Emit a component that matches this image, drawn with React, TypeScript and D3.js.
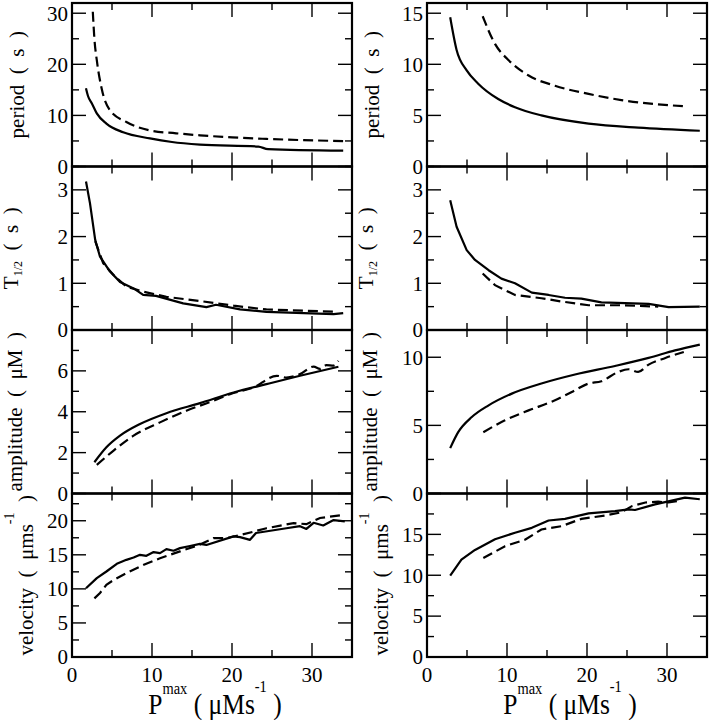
import * as d3 from "d3";

type Pt = [number, number];

// x axis (shared)
const X_DOMAIN: [number, number] = [0, 35];
const X_MAJOR = [0, 10, 20, 30];
const X_MINOR_STEP = 5;

// period (s)
const periodLeftSolid: Pt[] = [[1.75, 15.3], [2.0, 13.8], [2.5, 12.3], [3.1, 10.4], [4.3, 8.4], [6.4, 6.7], [9.75, 5.5], [12.5, 4.8], [16, 4.3], [23.3, 3.9], [24.5, 3.4], [33.9, 3.1]];
const periodLeftDash: Pt[] = [[2.6, 30.3], [2.8, 25], [3.1, 20.8], [3.7, 15.3], [4.75, 11], [6.8, 8.7], [9.75, 7.06], [13, 6.5], [16, 6.1], [20, 5.7], [24.3, 5.4], [34.3, 4.96]];
const periodRightSolid: Pt[] = [[2.9, 14.6], [3.7, 11.4], [4.96, 9.4], [6.4, 8.1], [8.9, 6.6], [11, 5.8], [14.3, 5.0], [20.2, 4.2], [26.4, 3.8], [34.1, 3.5]];
const periodRightDash: Pt[] = [[6.96, 14.7], [8.5, 12.0], [10.2, 10.4], [12.7, 8.9], [16, 7.9], [20.2, 7.1], [24.3, 6.5], [32, 5.9]];

// T1/2 (s)
const halfLeftSolid: Pt[] = [[1.75, 3.18], [2.25, 2.71], [2.9, 1.93], [3.5, 1.57], [4.75, 1.25], [6, 1.03], [7.7, 0.89], [8.9, 0.75], [10.5, 0.73], [13.9, 0.57], [16.8, 0.49], [18, 0.54], [21, 0.44], [24.3, 0.39], [32.7, 0.34], [33.9, 0.36]];
const halfLeftDash: Pt[] = [[2.9, 1.9], [3.9, 1.43], [5.4, 1.14], [6.8, 0.93], [8.9, 0.82], [11.8, 0.71], [16.4, 0.61], [20.2, 0.52], [24.3, 0.44], [33, 0.39]];
const halfRightSolid: Pt[] = [[2.9, 2.78], [3.7, 2.21], [4.96, 1.71], [6, 1.5], [7.7, 1.28], [9.3, 1.1], [11, 1.0], [13.1, 0.8], [15.2, 0.75], [17.25, 0.69], [19.3, 0.67], [21.8, 0.59], [27.7, 0.56], [30.2, 0.49], [34.1, 0.5]];
const halfRightDash: Pt[] = [[6.96, 1.21], [8.5, 0.96], [11, 0.75], [14.3, 0.68], [16.8, 0.61], [20.2, 0.53], [24.3, 0.53], [28.9, 0.5]];

// amplitude (uM)
const ampLeftSolid: Pt[] = [[2.8, 1.53], [4.3, 2.26], [6, 2.83], [8.5, 3.4], [11.8, 3.93], [16, 4.42], [20.2, 4.94], [24.3, 5.35], [28.5, 5.76], [33.3, 6.2]];
const ampLeftDash: Pt[] = [[3.1, 1.4], [5.2, 2.1], [7.7, 2.83], [11, 3.48], [14.3, 4.05], [17.7, 4.54], [19.75, 4.86], [22.7, 5.19], [25.6, 5.76], [26.8, 5.67], [28.5, 5.84], [30.2, 6.21], [31, 6.1], [31.8, 6.28], [32.7, 6.26], [33.3, 6.49]];
const ampRightSolid: Pt[] = [[2.9, 3.33], [3.9, 4.5], [5.6, 5.61], [7.7, 6.47], [10.6, 7.33], [14.3, 8.07], [18.5, 8.73], [23.5, 9.36], [27.7, 9.95], [31, 10.5], [34.1, 10.93]];
const ampRightDash: Pt[] = [[7.04, 4.5], [9.75, 5.37], [12.7, 6.1], [16, 6.84], [18.1, 7.45], [20.2, 8.07], [21.8, 8.24], [23.9, 8.92], [25.2, 9.12], [26.4, 8.92], [27.7, 9.46], [29.8, 9.95], [32.1, 10.39]];

// velocity (um/s)
const velLeftSolid: Pt[] = [[1.75, 10.1], [3.1, 11.57], [4.3, 12.55], [5.6, 13.68], [6.8, 14.26], [7.7, 14.6], [8.5, 15], [9.3, 14.85], [10.2, 15.4], [11, 15.25], [11.8, 15.83], [12.7, 15.6], [13.5, 15.98], [14.75, 16.3], [16, 16.6], [16.8, 16.45], [20.2, 17.7], [21, 17.6], [22.25, 17.2], [23, 18.2], [26.8, 18.9], [28.5, 19.2], [29.3, 18.8], [30.2, 19.7], [31.4, 19.3], [32.7, 20.1], [34.1, 19.9]];
const velLeftDash: Pt[] = [[2.8, 8.6], [3.5, 9.4], [4.3, 10.6], [5.2, 11.3], [6.8, 12.3], [8.9, 13.5], [11, 14.5], [13.5, 15.5], [16, 16.5], [17.7, 17.45], [19.3, 17.45], [21, 17.9], [22.7, 18.4], [24.3, 18.9], [27.7, 19.65], [29.3, 19.5], [31, 20.4], [34.1, 20.9]];
const velRightSolid: Pt[] = [[2.9, 9.95], [4.3, 11.9], [6, 13.1], [8.5, 14.4], [11, 15.2], [13.1, 15.8], [15.2, 16.7], [17.25, 16.9], [20.2, 17.57], [23.5, 17.85], [25.2, 18.06], [26, 17.98], [28.5, 18.67], [32.25, 19.5], [34.1, 19.3]];
const velRightDash: Pt[] = [[7.04, 12.1], [9.75, 13.55], [12.3, 14.37], [14.3, 15.6], [16.8, 16.0], [19.3, 16.9], [22.25, 17.3], [24.3, 17.7], [25.6, 18.45], [27.3, 18.9], [28.9, 19.0], [30.2, 18.9], [31.6, 19.1]];

type Kind = "period" | "half" | "amp" | "vel";

type Panel = {
  kind: Kind;
  yMax: number;
  major: number;
  minor: number;
  solid: Pt[];
  dash: Pt[];
};

const leftPanels: Panel[] = [
  { kind: "period", yMax: 32, major: 10, minor: 5, solid: periodLeftSolid, dash: periodLeftDash },
  { kind: "half", yMax: 3.5, major: 1, minor: 0.5, solid: halfLeftSolid, dash: halfLeftDash },
  { kind: "amp", yMax: 8, major: 2, minor: 1, solid: ampLeftSolid, dash: ampLeftDash },
  { kind: "vel", yMax: 24, major: 5, minor: 2.5, solid: velLeftSolid, dash: velLeftDash },
];

const rightPanels: Panel[] = [
  { kind: "period", yMax: 16, major: 5, minor: 2.5, solid: periodRightSolid, dash: periodRightDash },
  { kind: "half", yMax: 3.5, major: 1, minor: 0.5, solid: halfRightSolid, dash: halfRightDash },
  { kind: "amp", yMax: 12, major: 5, minor: 2.5, solid: ampRightSolid, dash: ampRightDash },
  { kind: "vel", yMax: 20, major: 5, minor: 2.5, solid: velRightSolid, dash: velRightDash },
];

const FONT = "'Liberation Serif', 'Times New Roman', serif";
const TOP = 3;
const BOTTOM = 657;
const PANEL_H = (BOTTOM - TOP) / 4;
const TICK_MAJOR = 14;
const TICK_MINOR = 7;
const GAP = "\u00A0\u00A0";

const YLabel = ({ kind, x, y }: { kind: Kind; x: number; y: number }) => {
  const common = {
    transform: `translate(${x},${y}) rotate(-90)`,
    textAnchor: "middle" as const,
    fontFamily: FONT,
    fontSize: 21,
  };
  if (kind === "period") return <text {...common}>{`period${GAP}(${GAP}s${GAP})`}</text>;
  if (kind === "amp") return <text {...common}>{`amplitude${GAP}(${GAP}μM${GAP})`}</text>;
  if (kind === "half")
    return (
      <text {...common}>
        T<tspan fontSize={12} dy={4}>1/2</tspan>
        <tspan dy={-4}>{`${GAP}(${GAP}s${GAP})`}</tspan>
      </text>
    );
  return (
    <text {...common}>
      {`velocity${GAP}(${GAP}μms`}
      <tspan fontSize={14} dy={-19}>-1</tspan>
      <tspan dy={19}>{`${GAP})`}</tspan>
    </text>
  );
};

const labelOffset: Record<Kind, number> = { period: 24, half: 18, amp: 22, vel: 33 };
const smoothKinds: Kind[] = ["period", "amp"];

const Column = ({ panels, x0, x1, dx }: { panels: Panel[]; x0: number; x1: number; dx: number }) => {
  const xScale = d3.scaleLinear().domain(X_DOMAIN).range([x0, x1]);
  const xMinor = d3.range(X_DOMAIN[0], X_DOMAIN[1] + 0.001, X_MINOR_STEP).filter((v) => v % 10 !== 0);

  return (
    <g>
      {panels.map((p, i) => {
        const top = TOP + i * PANEL_H;
        const bottom = top + PANEL_H;
        const yScale = d3.scaleLinear().domain([0, p.yMax]).range([bottom, top]);
        const line = d3
          .line<Pt>()
          .x((d) => xScale(d[0]))
          .y((d) => yScale(d[1]))
          .curve(smoothKinds.includes(p.kind) ? d3.curveMonotoneX : d3.curveLinear);
        const yMajor = d3.range(0, p.yMax + 1e-6, p.major);
        const yMinor = d3
          .range(0, p.yMax + 1e-6, p.minor)
          .filter((v) => Math.abs(v / p.major - Math.round(v / p.major)) > 1e-6);
        return (
          <g key={i}>
            <path d={line(p.solid) ?? ""} fill="none" stroke="#000" strokeWidth={2.2} strokeLinejoin="round" />
            <path d={line(p.dash) ?? ""} fill="none" stroke="#000" strokeWidth={2.2} strokeDasharray="10,5" />
            {yMajor.map((v) => (
              <g key={"ym" + v}>
                <line x1={x0} x2={x0 + TICK_MAJOR} y1={yScale(v)} y2={yScale(v)} stroke="#000" strokeWidth={1.4} />
                <line x1={x1} x2={x1 - TICK_MAJOR} y1={yScale(v)} y2={yScale(v)} stroke="#000" strokeWidth={1.4} />
                {v < p.yMax - 1e-6 && (
                  <text x={x0 - 4} y={yScale(v)} dy="0.35em" textAnchor="end" fontFamily={FONT} fontSize={21}>
                    {v}
                  </text>
                )}
              </g>
            ))}
            {yMinor.map((v) => (
              <g key={"yn" + v}>
                <line x1={x0} x2={x0 + TICK_MINOR} y1={yScale(v)} y2={yScale(v)} stroke="#000" strokeWidth={1.4} />
                <line x1={x1} x2={x1 - TICK_MINOR} y1={yScale(v)} y2={yScale(v)} stroke="#000" strokeWidth={1.4} />
              </g>
            ))}
            {X_MAJOR.concat(xMinor).map((v) => {
              const len = X_MAJOR.includes(v) ? TICK_MAJOR : TICK_MINOR;
              return (
                <g key={"x" + v}>
                  <line x1={xScale(v)} x2={xScale(v)} y1={bottom} y2={bottom - len} stroke="#000" strokeWidth={1.4} />
                  <line x1={xScale(v)} x2={xScale(v)} y1={top} y2={top + len} stroke="#000" strokeWidth={1.4} />
                </g>
              );
            })}
            <rect x={x0} y={top} width={x1 - x0} height={PANEL_H} fill="none" stroke="#000" strokeWidth={2.2} />
            <YLabel kind={p.kind} x={dx + labelOffset[p.kind]} y={(top + bottom) / 2} />
          </g>
        );
      })}
      {X_MAJOR.map((v) => (
        <text key={"xl" + v} x={xScale(v)} y={682} textAnchor="middle" fontFamily={FONT} fontSize={21}>
          {v}
        </text>
      ))}
      <g transform={`translate(${(x0 + x1) / 2 + 3},714) scale(0.85,1)`}>
        <text x={0} y={0} textAnchor="middle" fontFamily={FONT} fontSize={30}>
          P<tspan fontSize={17} dy={-20}>max</tspan>
          <tspan dy={20}> ( μMs</tspan>
          <tspan fontSize={17} dy={-22}>-1</tspan>
          <tspan dy={22}> )</tspan>
        </text>
      </g>
    </g>
  );
};

export default function App() {
  return (
    <svg
      width={710}
      height={720}
      viewBox="0 0 710 720"
      style={{ position: "absolute", left: 0, top: 0, background: "#fff" }}
    >
      <rect width={710} height={720} fill="#fff" />
      <Column panels={leftPanels} x0={72} x1={352} dx={0} />
      <Column panels={rightPanels} x0={427} x1={707} dx={355} />
    </svg>
  );
}
